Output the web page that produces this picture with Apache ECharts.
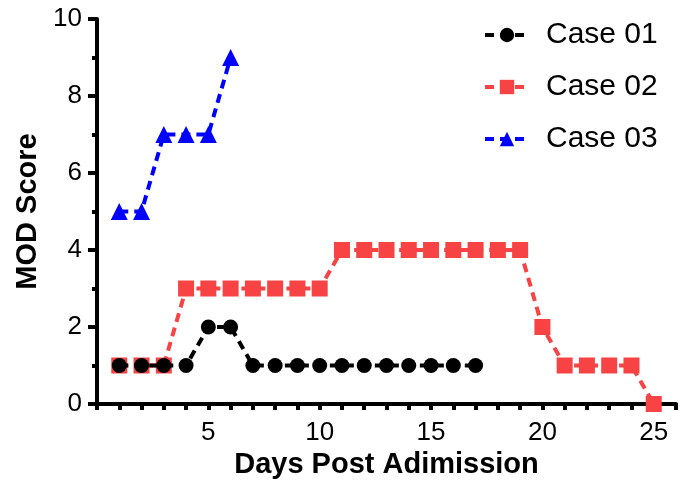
<!DOCTYPE html>
<html>
<head>
<meta charset="utf-8">
<script src="https://cdn.jsdelivr.net/npm/echarts@6/dist/echarts.min.js"></script>
<style>html,body{margin:0;padding:0;background:#fff}#c{width:686px;height:496px}</style>
</head>
<body>
<div id="c"></div>
<script>
var days01 = [1,2,3,4,5,6,7,8,9,10,11,12,13,14,15,16,17];
var case01 = [1,1,1,1,2,2,1,1,1,1,1,1,1,1,1,1,1];
var days02 = [1,2,3,4,5,6,7,8,9,10,11,12,13,14,15,16,17,18,19,20,21,22,23,24,25];
var case02 = [1,1,1,3,3,3,3,3,3,3,4,4,4,4,4,4,4,4,4,2,1,1,1,1,0];
var days03 = [1,2,3,4,5,6];
var case03 = [5,5,7,7,7,9];
var seriesNames = ['Case 01','Case 02','Case 03'];
var xTickLabels = [5,10,15,20,25];

function pairs(xs, ys){ return xs.map(function(x,i){ return [x, ys[i]]; }); }
var FONT = 'Liberation Sans, Arial, Helvetica, sans-serif';
var chart = echarts.init(document.getElementById('c'), null, {renderer:'canvas'});
var dash = [9,6];
var LW = 4;
chart.setOption({
  animation:false,
  backgroundColor:'#fff',
  grid:{left:97, right:10, top:19, bottom:92, containLabel:false},
  legend:{
    orient:'vertical', left:478, top:15,
    itemWidth:44, itemHeight:18, itemGap:22,
    data:seriesNames,
    lineStyle:{width:4},
    textStyle:{fontFamily:FONT, fontSize:30, color:'#000', padding:[0,0,0,12], lineHeight:30}
  },
  xAxis:{
    type:'value', min:0, max:26, interval:1,
    name:'Days Post Adimission', nameLocation:'middle', nameGap:45,
    nameTextStyle:{fontFamily:FONT, fontSize:29, fontWeight:'bold', color:'#000'},
    axisLine:{show:true, onZero:false, lineStyle:{color:'#000', width:LW}},
    axisTick:{show:true, length:6, lineStyle:{color:'#000', width:LW}},
    axisLabel:{fontFamily:FONT, fontSize:26, color:'#000', margin:16,
      formatter:function(v){ return xTickLabels.indexOf(v) >= 0 ? String(v) : ''; }},
    splitLine:{show:false}
  },
  yAxis:{
    type:'value', min:0, max:10, interval:2,
    name:'MOD Score', nameLocation:'middle', nameGap:48,
    nameTextStyle:{fontFamily:FONT, fontSize:29, fontWeight:'bold', color:'#000'},
    axisLine:{show:true, lineStyle:{color:'#000', width:LW}},
    axisTick:{show:true, length:9, lineStyle:{color:'#000', width:LW}},
    minorTick:{show:true, splitNumber:2, length:5, lineStyle:{color:'#000', width:LW}},
    axisLabel:{fontFamily:FONT, fontSize:26, color:'#000', margin:15},
    splitLine:{show:false}
  },
  series:[
    {name:seriesNames[0], type:'line', z:4, data:pairs(days01, case01),
     symbol:'circle', symbolSize:15, color:'#000',
     itemStyle:{color:'#000'}, lineStyle:{color:'#000', width:LW, type:dash}},
    {name:seriesNames[1], type:'line', z:3, data:pairs(days02, case02),
     symbol:'rect', symbolSize:16, color:'#F74343',
     itemStyle:{color:'#F74343'}, lineStyle:{color:'#F74343', width:LW, type:dash}},
    {name:seriesNames[2], type:'line', z:3, data:pairs(days03, case03),
     symbol:'triangle', symbolSize:17, color:'#0000FF',
     itemStyle:{color:'#0000FF'}, lineStyle:{color:'#0000FF', width:LW, type:dash}}
  ]
});
</script>
</body>
</html>
